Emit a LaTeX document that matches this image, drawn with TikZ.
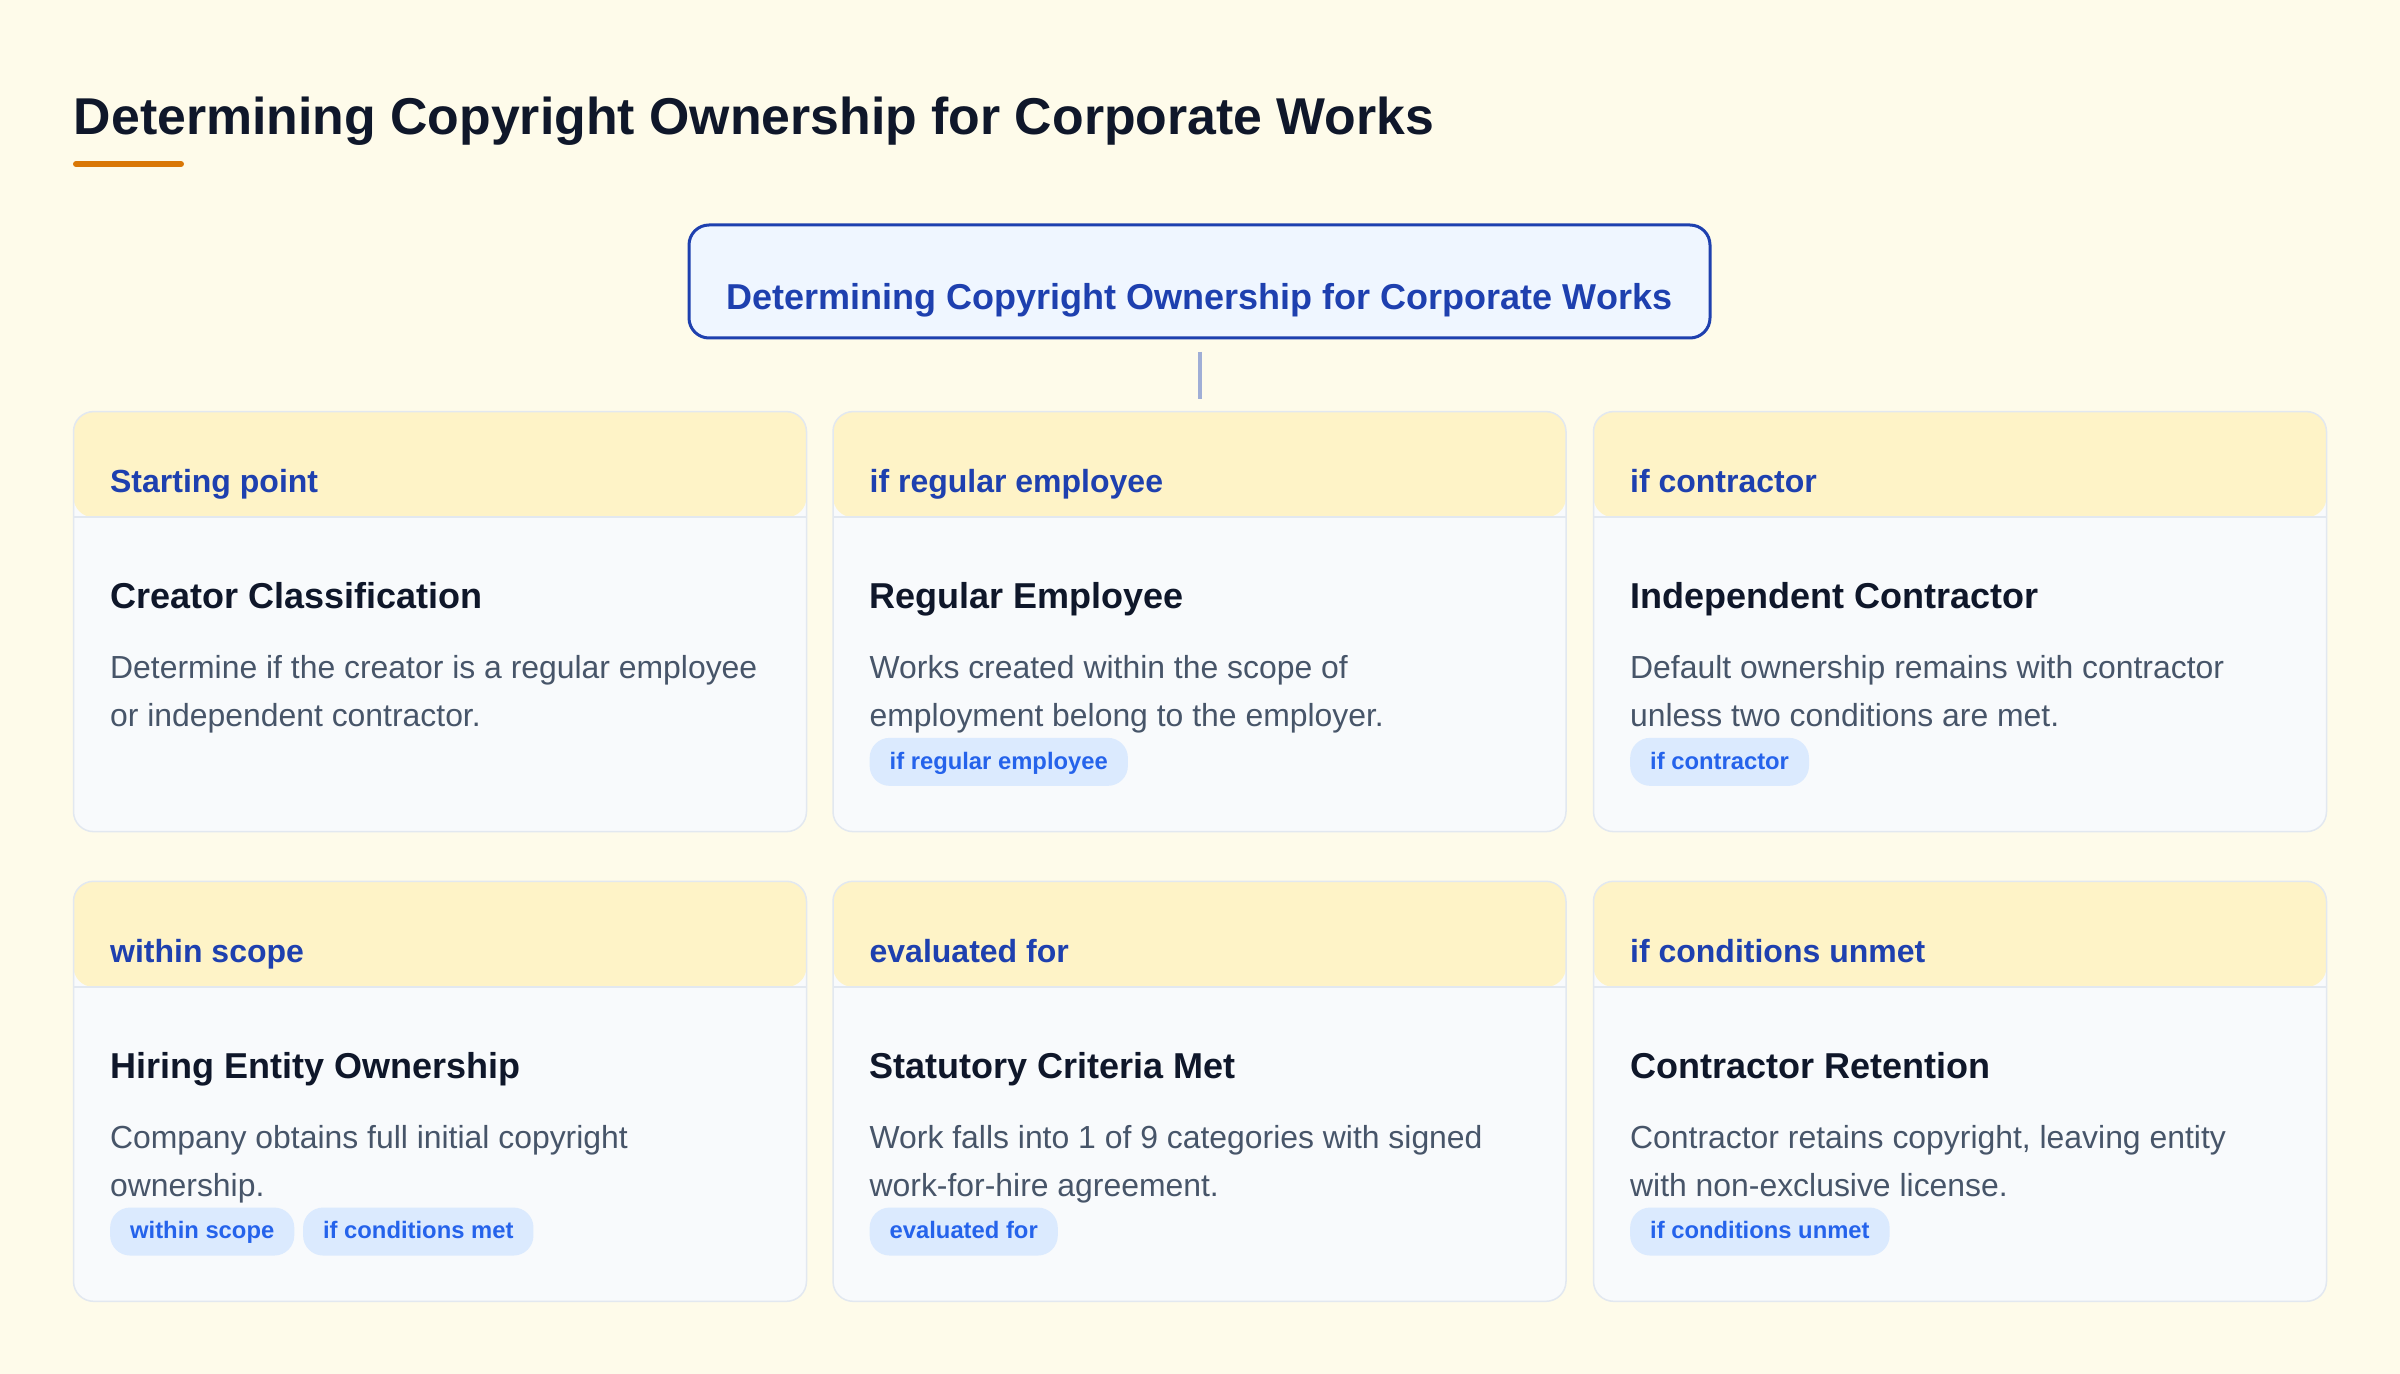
\documentclass[tikz,border=0pt]{standalone}
\usepackage{fontspec}
\setmainfont{Liberation Sans}
\usetikzlibrary{positioning,calc}

\definecolor{bgcol}{HTML}{FEFBEA}
\definecolor{titlecol}{HTML}{0F172A}
\definecolor{barcol}{HTML}{D97706}
\definecolor{rootfill}{HTML}{EFF6FF}
\definecolor{rootline}{HTML}{1E40AF}
\definecolor{conncol}{HTML}{A0AED6}
\definecolor{hdrfill}{HTML}{FEF3C7}
\definecolor{cardfill}{HTML}{F8FAFC}
\definecolor{cardline}{HTML}{E2E8F0}
\definecolor{desccol}{HTML}{475569}
\definecolor{pillfill}{HTML}{DBEAFE}
\definecolor{pilltext}{HTML}{2563EB}

\tikzset{
  card/.style={rectangle, rounded corners=10pt, draw=cardline, line width=0.75pt,
    fill=cardfill, minimum width=366.5pt, minimum height=210pt, inner sep=0pt,
    path picture={
      \fill[hdrfill] (path picture bounding box.north west) rectangle ([yshift=-52.8pt]path picture bounding box.north east);
      \draw[cardline, line width=1pt] ([yshift=-52.8pt]path picture bounding box.north west) -- ([yshift=-52.8pt]path picture bounding box.north east);
    }},
  hdr/.style={anchor=base west, inner sep=0pt, text=rootline, font=\bfseries\fontsize{16}{19}\selectfont},
  ttl/.style={anchor=base west, inner sep=0pt, text=titlecol, font=\bfseries\fontsize{18}{22}\selectfont},
  desc/.style={anchor=base west, inner sep=0pt, align=left, text=desccol, font=\fontsize{15.95}{24}\selectfont},
  pill/.style={anchor=west, rounded corners=10pt, fill=pillfill, text=pilltext, inner xsep=10pt, inner ysep=0pt,
    text height=0.92em, text depth=0.2em, minimum height=24pt, font=\bfseries\fontsize{11.9}{14}\selectfont},
  conn/.style={conncol, line width=2pt, shorten <=6.25pt, shorten >=6pt}
}

\begin{document}
\begin{tikzpicture}[x=0.5pt, y=-0.5pt]
  \fill[bgcol] (0,0) rectangle (2400,1374);
  \useasboundingbox (0,0) rectangle (2400,1374);

  % heading
  \node[anchor=base west, inner sep=0pt, text=titlecol, font=\bfseries\fontsize{25.9}{30}\selectfont] (title) at (73.5,134.5) {Determining Copyright Ownership for Corporate Works};
  \draw[barcol, line width=3pt, line cap=round] (76,164) -- (181,164);

  % root
  \node[rectangle, rounded corners=10pt, draw=rootline, line width=1.5pt, fill=rootfill, text=rootline,
    minimum width=510.5pt, inner xsep=0pt, inner ysep=0pt, text height=42.5pt, text depth=14pt,
    font=\bfseries\fontsize{18}{22}\selectfont] (root) at (1199.5,281.5) {Determining Copyright Ownership for Corporate Works};

  % cards
  \node[card] (cA) at (440,621.6) {};
  \node[card] (cB) at (1199.5,621.6) {};
  \node[card] (cC) at (1960,621.6) {};
  \node[card] (cD) at (440,1091.3) {};
  \node[card] (cE) at (1199.5,1091.3) {};
  \node[card] (cF) at (1960,1091.3) {};

  \draw[conn] (root) -- (cB);

  % card texts (desc is placed by the baseline of its last line)
  \node[hdr] (hA) at ($(cA.north west)+(37,82)$) {Starting point};
  \node[ttl] (tA) at ($(cA.north west)+(37,198)$) {Creator Classification};
  \node[desc] (dA) at ($(cA.north west)+(37,316)$) {Determine if the creator is a regular employee\\or independent contractor.};

  \node[hdr] (hB) at ($(cB.north west)+(37,82)$) {if regular employee};
  \node[ttl] (tB) at ($(cB.north west)+(37,198)$) {Regular Employee};
  \node[desc] (dB) at ($(cB.north west)+(37,316)$) {Works created within the scope of\\employment belong to the employer.};
  \node[pill] (pB) at ($(cB.north west)+(37,351)$) {if regular employee};

  \node[hdr] (hC) at ($(cC.north west)+(37,82)$) {if contractor};
  \node[ttl] (tC) at ($(cC.north west)+(37,198)$) {Independent Contractor};
  \node[desc] (dC) at ($(cC.north west)+(37,316)$) {Default ownership remains with contractor\\unless two conditions are met.};
  \node[pill] (pC) at ($(cC.north west)+(37,351)$) {if contractor};

  \node[hdr] (hD) at ($(cD.north west)+(37,82)$) {within scope};
  \node[ttl] (tD) at ($(cD.north west)+(37,198)$) {Hiring Entity Ownership};
  \node[desc] (dD) at ($(cD.north west)+(37,316)$) {Company obtains full initial copyright\\ownership.};
  \node[pill] (pD) at ($(cD.north west)+(37,351)$) {within scope};
  \node[pill, right=4pt of pD] (pD2) {if conditions met};

  \node[hdr] (hE) at ($(cE.north west)+(37,82)$) {evaluated for};
  \node[ttl] (tE) at ($(cE.north west)+(37,198)$) {Statutory Criteria Met};
  \node[desc] (dE) at ($(cE.north west)+(37,316)$) {Work falls into 1 of 9 categories with signed\\work-for-hire agreement.};
  \node[pill] (pE) at ($(cE.north west)+(37,351)$) {evaluated for};

  \node[hdr] (hF) at ($(cF.north west)+(37,82)$) {if conditions unmet};
  \node[ttl] (tF) at ($(cF.north west)+(37,198)$) {Contractor Retention};
  \node[desc] (dF) at ($(cF.north west)+(37,316)$) {Contractor retains copyright, leaving entity\\with non-exclusive license.};
  \node[pill] (pF) at ($(cF.north west)+(37,351)$) {if conditions unmet};
\end{tikzpicture}
\end{document}
